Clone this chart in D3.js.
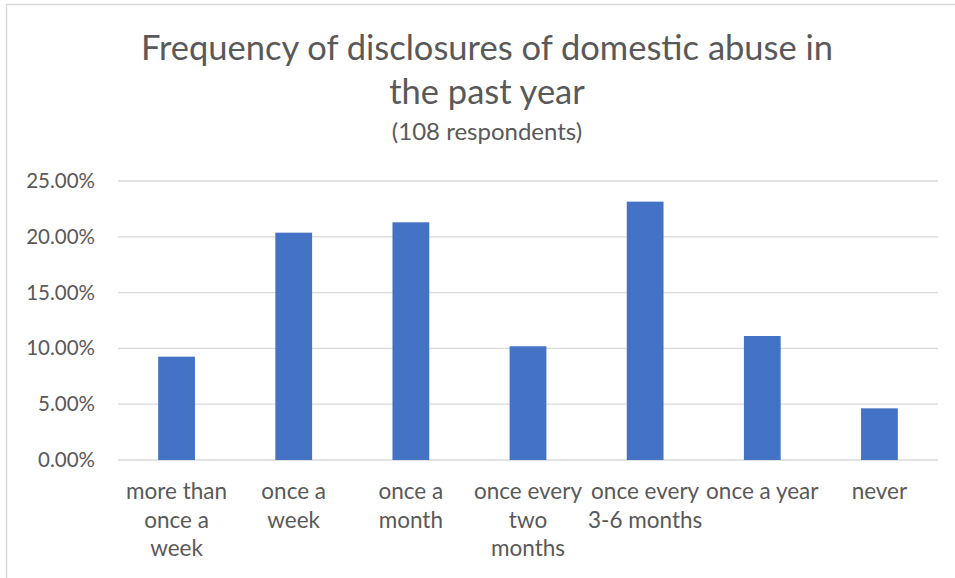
<!DOCTYPE html>
<html>
<head>
<meta charset="utf-8">
<script src="https://cdn.jsdelivr.net/npm/d3@7"></script>
<style>
  html, body { margin: 0; padding: 0; background: #fff; }
  svg { display: block; font-family: Lato, "Open Sans", sans-serif; }
</style>
</head>
<body>
<svg id="chart" width="955" height="578"></svg>
<script>
// Survey answers: how often respondents received disclosures (share of 108 respondents)
const categories = [
  ["more than", "once a", "week"],
  ["once a", "week"],
  ["once a", "month"],
  ["once every", "two", "months"],
  ["once every", "3-6 months"],
  ["once a year"],
  ["never"]
];
const shares = [0.0926, 0.2037, 0.2130, 0.1019, 0.2315, 0.1111, 0.0463];
const yTicks = [0, 0.05, 0.10, 0.15, 0.20, 0.25];
const titleLines = ["Frequency of disclosures of domestic abuse in", "the past year"];
const subtitle = "(108 respondents)";

const svg = d3.select("#chart");
const textColor = "#595959";

// chart frame
svg.append("path")
  .attr("d", "M6.5,578 V4.5 H955")
  .attr("fill", "none")
  .attr("stroke", "#d9d9d9")
  .attr("stroke-width", 1.5);

const plot = { left: 118, right: 938, top: 181, bottom: 460 };

const x = d3.scaleBand()
  .domain(d3.range(categories.length))
  .range([plot.left, plot.right])
  .paddingInner(0.686)
  .paddingOuter(0.343);

const y = d3.scaleLinear()
  .domain([0, 0.25])
  .range([plot.bottom, plot.top]);

// gridlines
svg.append("g")
  .selectAll("line")
  .data(yTicks)
  .join("line")
  .attr("x1", plot.left)
  .attr("x2", plot.right)
  .attr("y1", d => y(d))
  .attr("y2", d => y(d))
  .attr("stroke", "#d9d9d9")
  .attr("stroke-width", 1.3);

// y axis labels
const yAxis = d3.axisLeft(y)
  .tickValues(yTicks)
  .tickFormat(d3.format(".2%"))
  .tickSize(0)
  .tickPadding(23);

svg.append("g")
  .attr("transform", `translate(${plot.left},0)`)
  .call(yAxis)
  .call(g => g.select(".domain").remove())
  .call(g => g.selectAll("text")
    .attr("fill", textColor)
    .attr("font-size", 20.5)
    .attr("font-family", "Lato, sans-serif"));

// bars
svg.append("g")
  .selectAll("rect")
  .data(shares)
  .join("rect")
  .attr("x", (d, i) => x(i))
  .attr("width", x.bandwidth())
  .attr("y", d => y(d))
  .attr("height", d => y(0) - y(d))
  .attr("fill", "#4472c4");

// category labels (wrapped onto several lines)
const catG = svg.append("g")
  .selectAll("text")
  .data(categories)
  .join("text")
  .attr("text-anchor", "middle")
  .attr("fill", textColor)
  .attr("font-size", 22.5)
  .attr("x", (d, i) => x(i) + x.bandwidth() / 2)
  .attr("y", 499);

catG.selectAll("tspan")
  .data(d => d)
  .join("tspan")
  .attr("x", function () { return d3.select(this.parentNode).attr("x"); })
  .attr("dy", (d, i) => i === 0 ? 0 : 28.5)
  .text(d => d);

// title and subtitle
const cx = 487;
svg.append("g")
  .selectAll("text")
  .data(titleLines)
  .join("text")
  .attr("x", cx)
  .attr("y", (d, i) => 60 + i * 44)
  .attr("text-anchor", "middle")
  .attr("fill", textColor)
  .attr("font-size", 34.5)
  .text(d => d);

svg.append("text")
  .attr("x", cx)
  .attr("y", 140)
  .attr("text-anchor", "middle")
  .attr("fill", textColor)
  .attr("font-size", 24)
  .text(subtitle);
</script>
</body>
</html>
